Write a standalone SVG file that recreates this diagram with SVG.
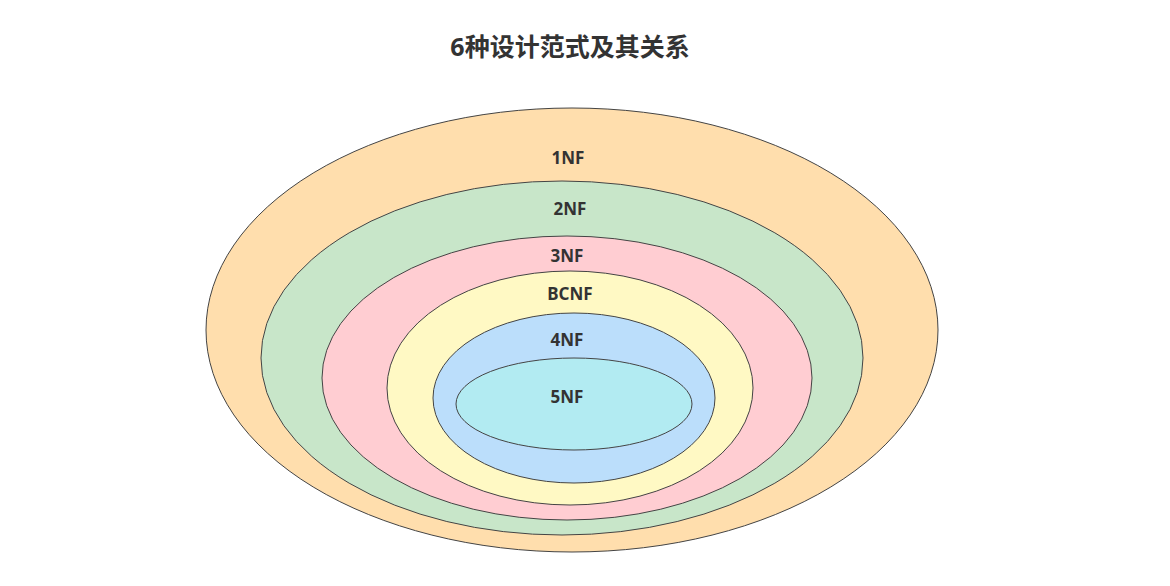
<svg xmlns="http://www.w3.org/2000/svg" width="1170" height="586" viewBox="0 0 1170 586">
<style>
  .ring { stroke: #444; stroke-width: 1; }
  .lbl { font-family: "Noto Sans", "Noto Sans CJK SC", sans-serif; font-weight: bold; font-size: 17px; fill: #333; text-anchor: middle; }
  .title { font-family: "Noto Sans", "Noto Sans CJK SC", sans-serif; font-weight: bold; font-size: 25px; fill: #333; text-anchor: middle; }
</style>
<rect width="1170" height="586" fill="#ffffff"/>
<text class="title" x="570" y="56">6种设计范式及其关系</text>
<g id="nf1">
  <ellipse class="ring" cx="572" cy="330" rx="366" ry="222" fill="#FFDEAD"/>
  <text class="lbl" x="568" y="164">1NF</text>
</g>
<g id="nf2">
  <ellipse class="ring" cx="562" cy="358" rx="301" ry="177" fill="#C8E6C9"/>
  <text class="lbl" x="570" y="215">2NF</text>
</g>
<g id="nf3">
  <ellipse class="ring" cx="567" cy="378" rx="245" ry="142" fill="#FFCDD2"/>
  <text class="lbl" x="567" y="262">3NF</text>
</g>
<g id="bcnf">
  <ellipse class="ring" cx="570" cy="388" rx="183" ry="117" fill="#FFF9C4"/>
  <text class="lbl" x="570" y="300">BCNF</text>
</g>
<g id="nf4">
  <ellipse class="ring" cx="574" cy="398" rx="141" ry="85" fill="#BBDEFB"/>
  <text class="lbl" x="567" y="346">4NF</text>
</g>
<g id="nf5">
  <ellipse class="ring" cx="574" cy="404" rx="118" ry="46" fill="#B2EBF2"/>
  <text class="lbl" x="567" y="403">5NF</text>
</g>
<g id="connectors"></g>
</svg>
